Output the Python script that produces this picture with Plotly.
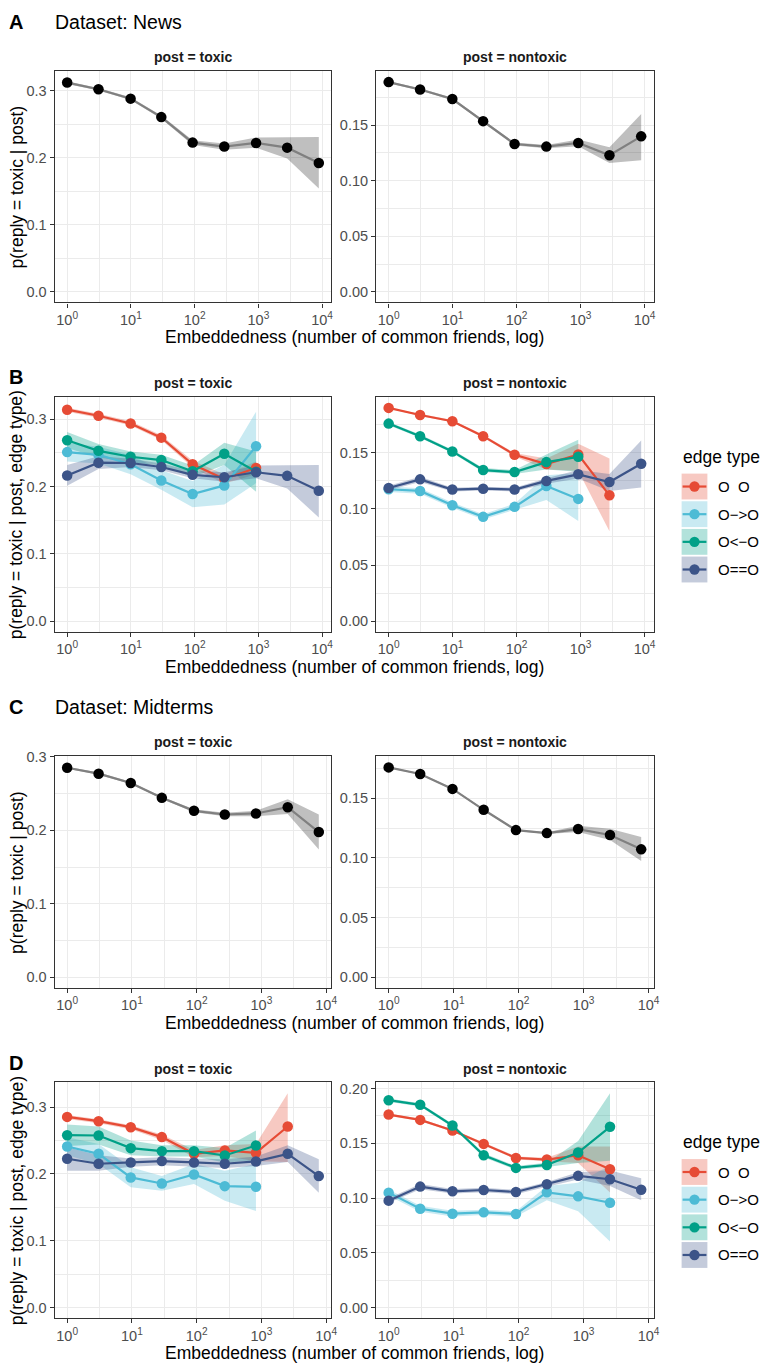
import math
import plotly.graph_objects as go

W, H = 764, 1367

# ---------------- data ----------------
# embeddedness bins (number of common friends)
X_NEWS = [1, 3.1, 9.9, 30, 93, 292, 920, 2830, 8870]
X_MID = [1, 3.06, 9.6, 29, 91, 272, 824, 2550, 7700]
X_TICKS = [1, 10, 100, 1000, 10000]
X_TICK_TEXT = ["10<sup>0</sup>", "10<sup>1</sup>", "10<sup>2</sup>", "10<sup>3</sup>", "10<sup>4</sup>"]
X_MINOR = [10 ** 0.5, 10 ** 1.5, 10 ** 2.5, 10 ** 3.5]

EDGE_TYPES = ["O\u00a0\u00a0O", "O\u2212>O", "O<\u2212O", "O==O"]
EDGE_COLORS = ["#E64B35", "#4DBBD5", "#00A087", "#3C5488"]
EDGE_FILLS = ["rgba(230,75,53,0.3)", "rgba(77,187,213,0.3)", "rgba(0,160,135,0.3)", "rgba(60,84,136,0.3)"]

# News, overall
NEWS_TOX = [0.312, 0.302, 0.288, 0.2605, 0.2225, 0.2166, 0.222, 0.215, 0.192]
NEWS_TOX_LO = [0.310, 0.300, 0.286, 0.258, 0.219, 0.212, 0.215, 0.199, 0.154]
NEWS_TOX_HI = [0.314, 0.304, 0.290, 0.263, 0.226, 0.221, 0.230, 0.231, 0.231]
NEWS_NON = [0.1887, 0.1821, 0.1735, 0.1536, 0.133, 0.1307, 0.134, 0.1229, 0.1399]
NEWS_NON_LO = [0.1877, 0.1811, 0.1724, 0.1523, 0.1316, 0.1292, 0.131, 0.116, 0.1185]
NEWS_NON_HI = [0.1895, 0.1831, 0.1746, 0.1549, 0.1344, 0.1322, 0.137, 0.130, 0.160]

# Midterms, overall
MID_TOX = [0.2851, 0.277, 0.2644, 0.2441, 0.2265, 0.2215, 0.2229, 0.2314, 0.1976]
MID_TOX_LO = [0.2838, 0.2755, 0.2628, 0.2425, 0.2245, 0.219, 0.219, 0.222, 0.174]
MID_TOX_HI = [0.2865, 0.2785, 0.266, 0.2457, 0.2285, 0.224, 0.2265, 0.2423, 0.2215]
MID_NON = [0.1758, 0.1703, 0.1578, 0.1403, 0.1233, 0.1208, 0.1242, 0.1192, 0.1072]
MID_NON_LO = [0.1752, 0.1696, 0.1571, 0.1396, 0.1226, 0.1200, 0.1218, 0.115, 0.0975]
MID_NON_HI = [0.1764, 0.171, 0.1585, 0.141, 0.124, 0.1216, 0.127, 0.1245, 0.1175]

# News by edge type, post = toxic  (order: O O, O->O, O<-O, O==O)
NEWS_TOX_OO = [0.314, 0.305, 0.2936, 0.2725, 0.233, 0.211, 0.2275]
NEWS_TOX_OO_LO = [0.311, 0.302, 0.2905, 0.269, 0.228, 0.204, 0.218]
NEWS_TOX_OO_HI = [0.317, 0.308, 0.2967, 0.276, 0.238, 0.218, 0.237]
NEWS_TOX_OUT = [0.251, 0.247, 0.233, 0.2088, 0.1887, 0.2015, 0.2598]
NEWS_TOX_OUT_LO = [0.237, 0.234, 0.218, 0.195, 0.169, 0.173, 0.205]
NEWS_TOX_OUT_HI = [0.265, 0.259, 0.247, 0.224, 0.208, 0.232, 0.311]
NEWS_TOX_IN = [0.2686, 0.2529, 0.2441, 0.2392, 0.2225, 0.2485, 0.222]
NEWS_TOX_IN_LO = [0.257, 0.243, 0.236, 0.231, 0.214, 0.232, 0.192]
NEWS_TOX_IN_HI = [0.281, 0.263, 0.252, 0.247, 0.231, 0.265, 0.252]
NEWS_TOX_MUT = [0.2162, 0.2353, 0.2348, 0.2289, 0.2172, 0.2137, 0.2211, 0.2157, 0.1936]
NEWS_TOX_MUT_LO = [0.201, 0.226, 0.229, 0.224, 0.212, 0.207, 0.212, 0.197, 0.154]
NEWS_TOX_MUT_HI = [0.232, 0.245, 0.241, 0.234, 0.223, 0.221, 0.231, 0.232, 0.232]

# News by edge type, post = nontoxic
NEWS_NON_OO = [0.19, 0.1837, 0.1781, 0.1648, 0.1482, 0.14, 0.1485, 0.1121]
NEWS_NON_OO_LO = [0.1895, 0.1828, 0.1771, 0.1636, 0.1466, 0.135, 0.134, 0.080]
NEWS_NON_OO_HI = [0.1902, 0.1846, 0.1791, 0.166, 0.1498, 0.145, 0.158, 0.145]
NEWS_NON_OUT = [0.1175, 0.116, 0.1033, 0.0929, 0.1018, 0.1204, 0.1089]
NEWS_NON_OUT_LO = [0.115, 0.1135, 0.101, 0.0905, 0.099, 0.108, 0.0893]
NEWS_NON_OUT_HI = [0.12, 0.1185, 0.1056, 0.0953, 0.1046, 0.130, 0.132]
NEWS_NON_IN = [0.176, 0.1648, 0.1512, 0.1346, 0.1328, 0.1417, 0.1464]
NEWS_NON_IN_LO = [0.1745, 0.1633, 0.1497, 0.1328, 0.131, 0.135, 0.133]
NEWS_NON_IN_HI = [0.1775, 0.1663, 0.1527, 0.1364, 0.1346, 0.1485, 0.1615]
NEWS_NON_MUT = [0.1186, 0.1263, 0.1172, 0.118, 0.1172, 0.1249, 0.1308, 0.124, 0.1402]
NEWS_NON_MUT_LO = [0.1165, 0.124, 0.1155, 0.1163, 0.1155, 0.1225, 0.127, 0.116, 0.119]
NEWS_NON_MUT_HI = [0.1207, 0.1286, 0.1189, 0.1197, 0.1189, 0.1273, 0.1346, 0.131, 0.161]

# Midterms by edge type, post = toxic
MID_TOX_OO = [0.2855, 0.2791, 0.2701, 0.2552, 0.2302, 0.2352, 0.2317, 0.2711]
MID_TOX_OO_LO = [0.2825, 0.276, 0.267, 0.251, 0.225, 0.227, 0.219, 0.218]
MID_TOX_OO_HI = [0.2885, 0.282, 0.273, 0.259, 0.236, 0.243, 0.245, 0.321]
MID_TOX_OUT = [0.2412, 0.2302, 0.1948, 0.1858, 0.1993, 0.1818, 0.1808]
MID_TOX_OUT_LO = [0.228, 0.215, 0.18, 0.175, 0.185, 0.16, 0.1445]
MID_TOX_OUT_HI = [0.255, 0.245, 0.21, 0.197, 0.215, 0.205, 0.215]
MID_TOX_IN = [0.2581, 0.2576, 0.2387, 0.2342, 0.2342, 0.2277, 0.2427]
MID_TOX_IN_LO = [0.242, 0.244, 0.228, 0.226, 0.226, 0.217, 0.22]
MID_TOX_IN_HI = [0.274, 0.271, 0.25, 0.243, 0.243, 0.239, 0.265]
MID_TOX_MUT = [0.2228, 0.2153, 0.2173, 0.2193, 0.2173, 0.2153, 0.2188, 0.2302, 0.1968]
MID_TOX_MUT_LO = [0.205, 0.205, 0.211, 0.213, 0.211, 0.209, 0.212, 0.218, 0.172]
MID_TOX_MUT_HI = [0.24, 0.228, 0.223, 0.225, 0.223, 0.222, 0.226, 0.243, 0.222]

# Midterms by edge type, post = nontoxic
MID_NON_OO = [0.1762, 0.1713, 0.1616, 0.1494, 0.1366, 0.1351, 0.139, 0.1263]
MID_NON_OO_LO = [0.1752, 0.1703, 0.1605, 0.1482, 0.1352, 0.1335, 0.132, 0.105]
MID_NON_OO_HI = [0.1772, 0.1723, 0.1627, 0.1506, 0.138, 0.1367, 0.147, 0.147]
MID_NON_OUT = [0.1049, 0.0902, 0.0857, 0.0869, 0.0854, 0.1052, 0.1015, 0.0957]
MID_NON_OUT_LO = [0.102, 0.0875, 0.083, 0.0845, 0.083, 0.098, 0.088, 0.0603]
MID_NON_OUT_HI = [0.1078, 0.0929, 0.0884, 0.0893, 0.0878, 0.111, 0.114, 0.130]
MID_NON_IN = [0.1893, 0.1851, 0.1662, 0.139, 0.1275, 0.1302, 0.1415, 0.165]
MID_NON_IN_LO = [0.1878, 0.1836, 0.1645, 0.1372, 0.1258, 0.1282, 0.132, 0.134]
MID_NON_IN_HI = [0.1908, 0.1866, 0.1679, 0.1408, 0.1292, 0.1322, 0.152, 0.1957]
MID_NON_MUT = [0.0976, 0.1104, 0.1061, 0.1073, 0.1055, 0.1125, 0.1202, 0.1171, 0.1075]
MID_NON_MUT_LO = [0.0955, 0.108, 0.104, 0.1052, 0.1035, 0.1103, 0.117, 0.111, 0.098]
MID_NON_MUT_HI = [0.0997, 0.1128, 0.1082, 0.1094, 0.1075, 0.1147, 0.1234, 0.125, 0.118]

# ---------------- layout geometry (pixels) ----------------
FONT = "Liberation Sans, Arial, Helvetica, sans-serif"
COLS = [(55, 334), (379, 659)]
ROWS = [(64, 297), (392, 628), (753, 986), (1081, 1318)]
BLACK_FILL = "rgba(0,0,0,0.25)"
BLACK_LINE = "#808080"


def fx(px):
    return px / W


def fy(py):
    return 1 - py / H


fig = go.Figure()
annotations = []
shapes = []


def edge_series(groups):
    return [(v, lo, hi, EDGE_COLORS[i], EDGE_FILLS[i], EDGE_COLORS[i]) for i, (v, lo, hi) in enumerate(groups)]


panels = [
    (0, 0, X_NEWS, [(NEWS_TOX, NEWS_TOX_LO, NEWS_TOX_HI, "black", BLACK_FILL, BLACK_LINE)], 0.1),
    (0, 1, X_NEWS, [(NEWS_NON, NEWS_NON_LO, NEWS_NON_HI, "black", BLACK_FILL, BLACK_LINE)], 0.05),
    (1, 0, X_NEWS, edge_series([
        (NEWS_TOX_OO, NEWS_TOX_OO_LO, NEWS_TOX_OO_HI),
        (NEWS_TOX_OUT, NEWS_TOX_OUT_LO, NEWS_TOX_OUT_HI),
        (NEWS_TOX_IN, NEWS_TOX_IN_LO, NEWS_TOX_IN_HI),
        (NEWS_TOX_MUT, NEWS_TOX_MUT_LO, NEWS_TOX_MUT_HI)]), 0.1),
    (1, 1, X_NEWS, edge_series([
        (NEWS_NON_OO, NEWS_NON_OO_LO, NEWS_NON_OO_HI),
        (NEWS_NON_OUT, NEWS_NON_OUT_LO, NEWS_NON_OUT_HI),
        (NEWS_NON_IN, NEWS_NON_IN_LO, NEWS_NON_IN_HI),
        (NEWS_NON_MUT, NEWS_NON_MUT_LO, NEWS_NON_MUT_HI)]), 0.05),
    (2, 0, X_MID, [(MID_TOX, MID_TOX_LO, MID_TOX_HI, "black", BLACK_FILL, BLACK_LINE)], 0.1),
    (2, 1, X_MID, [(MID_NON, MID_NON_LO, MID_NON_HI, "black", BLACK_FILL, BLACK_LINE)], 0.05),
    (3, 0, X_MID, edge_series([
        (MID_TOX_OO, MID_TOX_OO_LO, MID_TOX_OO_HI),
        (MID_TOX_OUT, MID_TOX_OUT_LO, MID_TOX_OUT_HI),
        (MID_TOX_IN, MID_TOX_IN_LO, MID_TOX_IN_HI),
        (MID_TOX_MUT, MID_TOX_MUT_LO, MID_TOX_MUT_HI)]), 0.1),
    (3, 1, X_MID, edge_series([
        (MID_NON_OO, MID_NON_OO_LO, MID_NON_OO_HI),
        (MID_NON_OUT, MID_NON_OUT_LO, MID_NON_OUT_HI),
        (MID_NON_IN, MID_NON_IN_LO, MID_NON_IN_HI),
        (MID_NON_MUT, MID_NON_MUT_LO, MID_NON_MUT_HI)]), 0.05),
]

layout_axes = {}
GRID = "#EBEBEB"
AXC = "#333333"
TICKFONT = dict(family=FONT, size=14.5, color="#4D4D4D")

for k, (r, c, xs, series, ystep) in enumerate(panels):
    idx = k + 1
    xa = "x" if idx == 1 else f"x{idx}"
    ya = "y" if idx == 1 else f"y{idx}"
    # ribbons first
    for vals, lo, hi, col, fill, lcol in series:
        n = len(vals)
        xx = list(xs[:n]) + list(xs[:n])[::-1]
        yy = list(hi) + list(lo)[::-1]
        fig.add_trace(go.Scatter(x=xx, y=yy, xaxis=xa, yaxis=ya, mode="lines", fill="toself",
                                 fillcolor=fill, line=dict(width=0), hoverinfo="skip", showlegend=False))
    for vals, lo, hi, col, fill, lcol in series:
        n = len(vals)
        fig.add_trace(go.Scatter(x=list(xs[:n]), y=vals, xaxis=xa, yaxis=ya, mode="lines+markers",
                                 line=dict(color=lcol, width=2.2),
                                 marker=dict(color=col, size=10.5, line=dict(width=0)),
                                 showlegend=False))
    # ranges, ggplot-like 5% expansion
    lx = [math.log10(v) for v in xs]
    xlo, xhi = min(lx), max(lx)
    pad = 0.05 * (xhi - xlo)
    ymax = max(max(max(s[0]), max(s[2])) for s in series)
    ylo, yhi = -0.05 * ymax, 1.05 * ymax
    x0, x1 = COLS[c]
    y0, y1 = ROWS[r]
    xname = "xaxis" if idx == 1 else f"xaxis{idx}"
    yname = "yaxis" if idx == 1 else f"yaxis{idx}"
    layout_axes[xname] = dict(
        domain=[fx(x0), fx(x1)], anchor=ya, type="log", range=[xlo - pad, xhi + pad],
        tickmode="array", tickvals=X_TICKS, ticktext=X_TICK_TEXT,
        showgrid=True, gridcolor=GRID, gridwidth=1.1,
        minor=dict(tickmode="array", tickvals=X_MINOR, showgrid=True, gridcolor=GRID, gridwidth=0.6, ticks=""),
        showline=True, linecolor=AXC, linewidth=1.1, mirror=True,
        ticks="outside", ticklen=4, tickwidth=1.1, tickcolor=AXC,
        tickfont=TICKFONT, zeroline=False,
    )
    fmt = ".1f" if ystep == 0.1 else ".2f"
    layout_axes[yname] = dict(
        domain=[fy(y1), fy(y0)], anchor=xa, range=[ylo, yhi],
        tick0=0, dtick=ystep, tickformat=fmt,
        showgrid=True, gridcolor=GRID, gridwidth=1.1,
        minor=dict(dtick=ystep / 2, showgrid=True, gridcolor=GRID, gridwidth=0.6, ticks=""),
        showline=True, linecolor=AXC, linewidth=1.1, mirror=True,
        ticks="outside", ticklen=4, tickwidth=1.1, tickcolor=AXC,
        tickfont=TICKFONT, zeroline=False,
    )
    # strip label
    annotations.append(dict(xref="paper", yref="paper", x=fx((x0 + x1) / 2), y=fy(y0 - 14),
                            text="<b>post = toxic</b>" if c == 0 else "<b>post = nontoxic</b>",
                            showarrow=False, xanchor="center", yanchor="middle",
                            font=dict(family=FONT, size=14, color="#1A1A1A")))

# row-level texts
ROW_LABELS = ["A", "B", "C", "D"]
ROW_LABEL_Y = [15, 372, 704, 1061]
DATASET_TITLES = {0: "Dataset: News", 2: "Dataset: Midterms"}
Y_TITLES = ["p(reply = toxic | post)", "p(reply = toxic | post, edge type)",
            "p(reply = toxic | post)", "p(reply = toxic | post, edge type)"]
X_TITLE = "Embeddedness (number of common friends, log)"

for r in range(4):
    y0, y1 = ROWS[r]
    annotations.append(dict(xref="paper", yref="paper", x=fx(7), y=fy(ROW_LABEL_Y[r]),
                            text=f"<b>{ROW_LABELS[r]}</b>", showarrow=False, xanchor="left", yanchor="middle",
                            font=dict(family=FONT, size=20, color="black")))
    if r in DATASET_TITLES:
        annotations.append(dict(xref="paper", yref="paper", x=fx(53), y=fy(ROW_LABEL_Y[r]),
                                text=DATASET_TITLES[r], showarrow=False, xanchor="left", yanchor="middle",
                                font=dict(family=FONT, size=19.5, color="black")))
    annotations.append(dict(xref="paper", yref="paper", x=fx(17), y=fy((y0 + y1) / 2),
                            text=Y_TITLES[r], showarrow=False, textangle=-90,
                            xanchor="center", yanchor="middle",
                            font=dict(family=FONT, size=17.5, color="black")))
    annotations.append(dict(xref="paper", yref="paper", x=fx((COLS[0][0] + COLS[1][1]) / 2), y=fy(y1 + 35),
                            text=X_TITLE, showarrow=False, xanchor="center", yanchor="middle",
                            font=dict(family=FONT, size=17.5, color="black")))

# legends for rows B and D
for r in (1, 3):
    top = ROWS[r][0]
    annotations.append(dict(xref="paper", yref="paper", x=fx(686), y=fy(top + 60),
                            text="edge type", showarrow=False, xanchor="left", yanchor="middle",
                            font=dict(family=FONT, size=17.5, color="black")))
    for i, name in enumerate(EDGE_TYPES):
        by0 = top + 77 + i * 27.8
        by1 = by0 + 26
        cy = (by0 + by1) / 2
        shapes.append(dict(type="rect", xref="paper", yref="paper", x0=fx(687), x1=fx(713),
                           y0=fy(by1), y1=fy(by0), fillcolor=EDGE_FILLS[i], line=dict(width=0), layer="above"))
        shapes.append(dict(type="line", xref="paper", yref="paper", x0=fx(688), x1=fx(712),
                           y0=fy(cy), y1=fy(cy), line=dict(color=EDGE_COLORS[i], width=2.2), layer="above"))
        shapes.append(dict(type="circle", xref="paper", yref="paper", x0=fx(700 - 5.2), x1=fx(700 + 5.2),
                           y0=fy(cy + 5.2), y1=fy(cy - 5.2), fillcolor=EDGE_COLORS[i],
                           line=dict(width=0), layer="above"))
        annotations.append(dict(xref="paper", yref="paper", x=fx(722), y=fy(cy),
                                text=name, showarrow=False, xanchor="left", yanchor="middle",
                                font=dict(family=FONT, size=15, color="black")))

fig.update_layout(
    width=W, height=H, margin=dict(l=0, r=0, t=0, b=0, pad=0),
    paper_bgcolor="white", plot_bgcolor="white", showlegend=False,
    annotations=annotations, shapes=shapes,
    font=dict(family=FONT),
    **layout_axes,
)

fig.write_html("out.html")
